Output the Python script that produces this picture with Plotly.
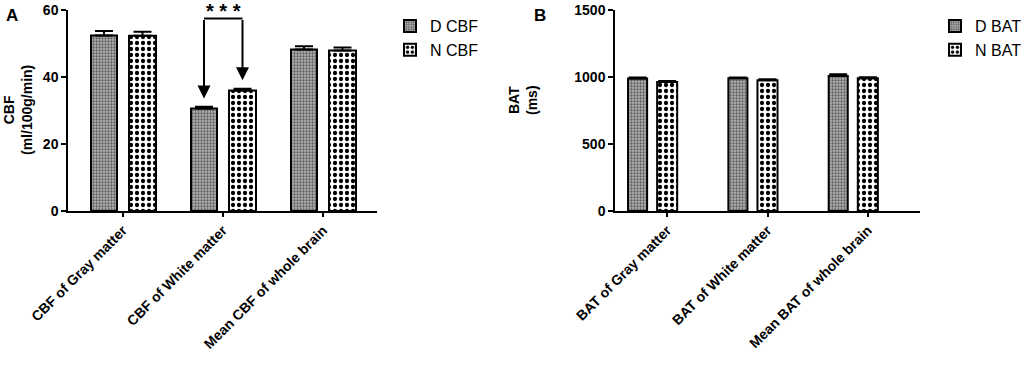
import plotly.graph_objects as go

# ---- data ----
cbf_categories = ["CBF of Gray matter", "CBF of White matter", "Mean CBF of whole brain"]
cbf_d = [52.4, 30.6, 48.2]
cbf_d_err = [1.3, 0.5, 1.0]
cbf_n = [52.3, 36.0, 47.9]
cbf_n_err = [1.2, 0.5, 0.9]

bat_categories = ["BAT of Gray matter", "BAT of White matter", "Mean BAT of whole brain"]
bat_d = [988, 990, 1008]
bat_d_err = [8, 7, 12]
bat_n = [962, 975, 990]
bat_n_err = [9, 8, 9]

cbf_ticks = [0, 20, 40, 60]
bat_ticks = [0, 500, 1000, 1500]

W, H = 1032, 368
FONT = "Liberation Sans, Arial, sans-serif"

def px(x):
    return x / W

def py(y):
    return 1 - y / H

D_PATTERN = dict(shape=".", fgcolor="#5e5e5e", bgcolor="#b4b4b4", size=3, solidity=0.45, fillmode="replace")
N_PATTERN = dict(shape=".", fgcolor="#000000", bgcolor="#ffffff", size=6, solidity=0.4, fillmode="replace")

# bar placement (in category units)
A_D_OFF, A_D_W = -0.32, 0.26
A_N_OFF, A_N_W = 0.06, 0.27
B_D_OFF, B_D_W = -0.39, 0.19
B_N_OFF, B_N_W = -0.10, 0.20

fig = go.Figure()

def add_bar(x, y, err, name, pattern, off, wid, xa, ya, legend):
    fig.add_trace(go.Bar(
        x=x, y=y, name=name, offset=off, width=wid,
        xaxis=xa, yaxis=ya, legend=legend,
        marker=dict(color=pattern["bgcolor"], pattern=pattern,
                    line=dict(color="black", width=2)),
        error_y=dict(type="data", array=err, symmetric=False, arrayminus=[0] * len(err),
                     color="black", thickness=2, width=9),
    ))

add_bar(cbf_categories, cbf_d, cbf_d_err, "D CBF", D_PATTERN, A_D_OFF, A_D_W, "x", "y", "legend")
add_bar(cbf_categories, cbf_n, cbf_n_err, "N CBF", N_PATTERN, A_N_OFF, A_N_W, "x", "y", "legend")
add_bar(bat_categories, bat_d, bat_d_err, "D BAT", D_PATTERN, B_D_OFF, B_D_W, "x2", "y2", "legend2")
add_bar(bat_categories, bat_n, bat_n_err, "N BAT", N_PATTERN, B_N_OFF, B_N_W, "x2", "y2", "legend2")

axis_common = dict(showline=True, linecolor="black", linewidth=1.5, ticks="outside",
                   tickcolor="black", tickwidth=1.5, showgrid=False, zeroline=False,
                   automargin=False,
                   tickfont=dict(family=FONT, size=14, color="black", weight="bold"))

legend_common = dict(xanchor="left", yanchor="top",
                     font=dict(family=FONT, size=16, color="black"),
                     tracegroupgap=0, itemsizing="constant", bgcolor="rgba(0,0,0,0)")

fig.update_layout(
    template="none",
    width=W, height=H, margin=dict(l=0, r=0, t=0, b=0, pad=0),
    plot_bgcolor="white", paper_bgcolor="white",
    barmode="overlay",
    xaxis=dict(domain=[px(68), px(377)], range=[-0.55, 2.54], anchor="y",
               tickangle=-45, ticklen=4, **axis_common),
    yaxis=dict(domain=[py(211), py(10)], range=[0, 60], anchor="x",
               tickvals=cbf_ticks, ticklen=5, **axis_common),
    xaxis2=dict(domain=[px(615), px(920)], range=[-0.52, 2.52], anchor="y2",
                tickangle=-45, ticklen=4, **axis_common),
    yaxis2=dict(domain=[py(211), py(10)], range=[0, 1500], anchor="x2",
                tickvals=bat_ticks, ticklen=5, **axis_common),
    legend=dict(x=px(390), y=py(9), **legend_common),
    legend2=dict(x=px(935), y=py(9), **legend_common),
    showlegend=True,
)

# significance bracket on White matter
d_center = 1 + A_D_OFF + A_D_W / 2
n_center = 1 + A_N_OFF + A_N_W / 2
bracket_y = 57.5
fig.add_shape(type="line", xref="x", yref="y", x0=d_center, x1=n_center,
              y0=bracket_y, y1=bracket_y, line=dict(color="black", width=2))
for c, top in [(d_center, cbf_d[1] + cbf_d_err[1] + 2.5), (n_center, cbf_n[1] + cbf_n_err[1] + 2.5)]:
    fig.add_annotation(xref="x", yref="y", axref="x", ayref="y", x=c, y=top, ax=c, ay=bracket_y,
                       showarrow=True, arrowhead=2, arrowsize=1.3, arrowwidth=2, arrowcolor="black", text="")
fig.add_annotation(xref="x", yref="y", x=(d_center + n_center) / 2, y=bracket_y, yanchor="bottom",
                   text="* * *", showarrow=False, yshift=-6,
                   font=dict(family=FONT, size=20, color="black", weight="bold"))

# panel labels
for label, x in [("A", 4), ("B", 532)]:
    fig.add_annotation(xref="paper", yref="paper", x=px(x), y=py(4), xanchor="left", yanchor="top",
                       text=label, showarrow=False,
                       font=dict(family=FONT, size=17, color="black", weight="bold"))

# y-axis titles
fig.add_annotation(xref="paper", yref="paper", x=px(18), y=py(110), xanchor="center", yanchor="middle",
                   textangle=-90, text="<span style='font-size:14px'>CBF</span><br>(ml/100g/min)",
                   showarrow=False,
                   font=dict(family=FONT, size=14, color="black", weight="bold"))
fig.add_annotation(xref="paper", yref="paper", x=px(523), y=py(100), xanchor="center", yanchor="middle",
                   textangle=-90, text="BAT<br>(ms)", showarrow=False,
                   font=dict(family=FONT, size=14, color="black", weight="bold"))

fig.write_html("out.html", config={"displayModeBar": False},
               post_script="document.body.style.margin='0';document.body.style.overflow='hidden';")
